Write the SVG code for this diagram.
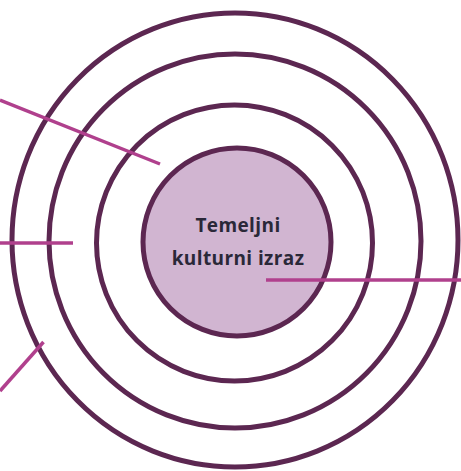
<svg xmlns="http://www.w3.org/2000/svg" width="461" height="471" viewBox="0 0 461 471">
<style>
.ring{fill:none;stroke:#5c2751;stroke-width:5}
.core{fill:#d1b5d1;stroke:#5c2751;stroke-width:5}
.lead{stroke:#b0408d;stroke-width:3.5;stroke-linecap:butt;fill:none}
.lbl{font-family:"Open Sans","DejaVu Sans",sans-serif;font-weight:700;font-size:19px;fill:#2a2838;text-anchor:middle;letter-spacing:0.4px}
</style>
<rect width="461" height="471" fill="#ffffff"/>
<g id="ring4"><ellipse class="ring" cx="235" cy="240" rx="223" ry="227"/></g>
<g id="ring3"><ellipse class="ring" cx="235" cy="241" rx="186" ry="187"/></g>
<g id="ring2"><circle class="ring" cx="234.5" cy="243" r="138"/></g>
<g id="core">
<circle class="core" cx="237" cy="242" r="94"/>
<text class="lbl" x="238" y="232">Temeljni</text>
<text class="lbl" x="238" y="265">kulturni izraz</text>
</g>
<g id="connectors">
<line class="lead" x1="0" y1="100" x2="160" y2="164"/>
<line class="lead" x1="0" y1="243" x2="73" y2="243"/>
<line class="lead" x1="0" y1="391" x2="43.5" y2="342"/>
<line class="lead" x1="266" y1="280" x2="461" y2="280"/>
</g>
</svg>
